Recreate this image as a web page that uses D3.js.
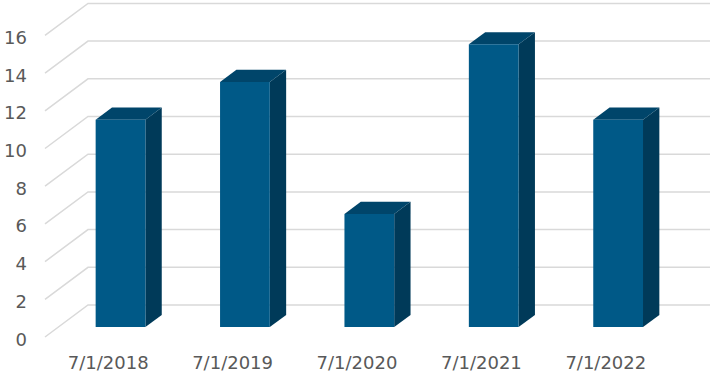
<!DOCTYPE html>
<html>
<head>
<meta charset="utf-8">
<script src="https://cdn.jsdelivr.net/npm/d3@7"></script>
<style>
  html, body { margin: 0; padding: 0; background: #fff; }
  svg { display: block; }
</style>
</head>
<body>
<svg id="chart"></svg>
<script>
'use strict';

const categories = ['7/1/2018', '7/1/2019', '7/1/2020', '7/1/2021', '7/1/2022'];
const values = [11, 13, 6, 15, 11];
const yTicks = [0, 2, 4, 6, 8, 10, 12, 14, 16];

const width = 715;
const height = 374;

// oblique 3d: floor front edge and how far the back wall is pushed
const floorY = 337;
const depthX = 43;
const depthY = 32;
const barFront = 0.31;  // depth fraction of bar faces
const barBack = 0.69;

const svg = d3.select('#chart')
  .attr('width', width)
  .attr('height', height);

const xScale = d3.scaleBand()
  .domain(categories)
  .range([45, 667])
  .paddingInner(0.6)
  .paddingOuter(0.3);

const yScale = d3.scaleLinear()
  .domain([0, 16])
  .range([0, 16 * 18.85]);

// x, value, depth -> screen point
const pt = (x, v, d) => [x + d * depthX, floorY - d * depthY - yScale(v)];

// gridlines: diagonal on side wall, then flat along the back wall
svg.append('g')
  .selectAll('path')
  .data(yTicks)
  .enter()
  .append('path')
  .attr('d', (d) => d3.line()([pt(45, d, 0), pt(45, d, 1), pt(667, d, 1)]))
  .attr('fill', 'none')
  .attr('stroke', '#d9d9d9')
  .attr('stroke-width', 1.5);

svg.append('g')
  .selectAll('text')
  .data(yTicks)
  .enter()
  .append('text')
  .text((d) => d)
  .attr('x', 27)
  .attr('y', (d) => pt(45, d, 0)[1] + 2)
  .attr('text-anchor', 'end')
  .attr('dominant-baseline', 'central')
  .attr('font-family', 'DejaVu Sans, sans-serif')
  .attr('font-size', '18px')
  .attr('fill', '#595959');

// bars
const bars = svg.append('g')
  .selectAll('g')
  .data(categories.map((c, i) => ({ c: c, v: values[i] })))
  .enter()
  .append('g');

const poly = (pts) => d3.line()(pts) + 'Z';

bars.append('path')  // right side
  .attr('d', (d) => {
    const x1 = xScale(d.c) + xScale.bandwidth();
    return poly([pt(x1, 0, barFront), pt(x1, 0, barBack), pt(x1, d.v, barBack), pt(x1, d.v, barFront)]);
  })
  .attr('fill', '#003a59');

bars.append('path')  // top
  .attr('d', (d) => {
    const x0 = xScale(d.c);
    const x1 = x0 + xScale.bandwidth();
    return poly([pt(x0, d.v, barFront), pt(x0, d.v, barBack), pt(x1, d.v, barBack), pt(x1, d.v, barFront)]);
  })
  .attr('fill', '#00456a');

bars.append('path')  // front
  .attr('d', (d) => {
    const x0 = xScale(d.c);
    const x1 = x0 + xScale.bandwidth();
    return poly([pt(x0, 0, barFront), pt(x1, 0, barFront), pt(x1, d.v, barFront), pt(x0, d.v, barFront)]);
  })
  .attr('fill', '#005987');

// category labels along the front edge of the floor
svg.append('g')
  .selectAll('text')
  .data(categories)
  .enter()
  .append('text')
  .text((d) => d)
  .attr('x', (d) => xScale(d) + xScale.bandwidth() / 2 + 1)
  .attr('y', 369)
  .attr('text-anchor', 'middle')
  .attr('font-family', 'DejaVu Sans, sans-serif')
  .attr('font-size', '18px')
  .attr('fill', '#595959');
</script>
</body>
</html>
